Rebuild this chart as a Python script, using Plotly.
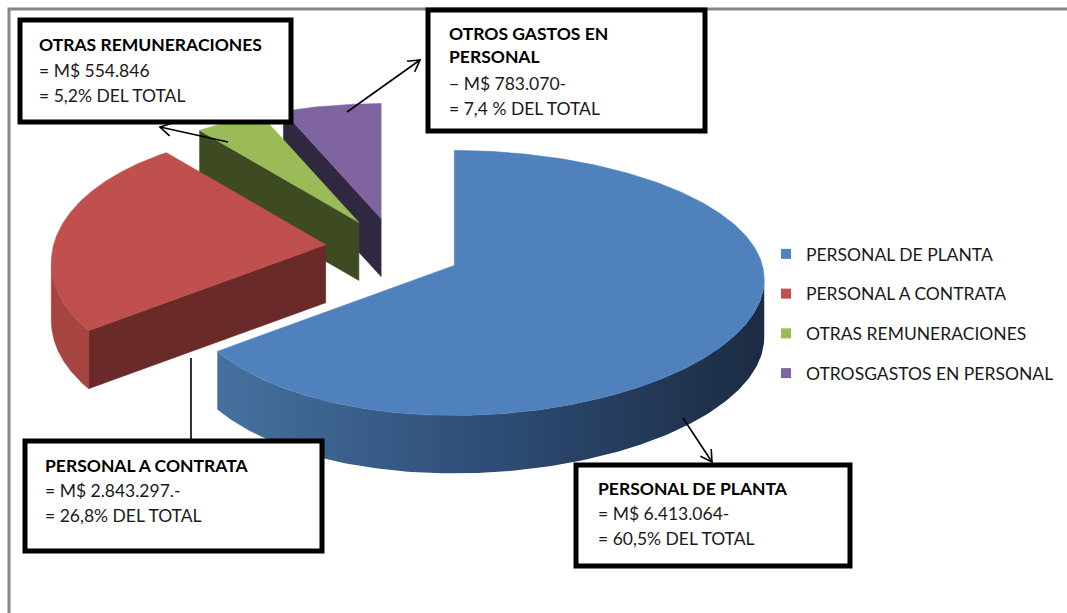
import numpy as np
import plotly.graph_objects as go

# ---------------- data ----------------
categories = ["PERSONAL DE PLANTA", "PERSONAL A CONTRATA",
              "OTRAS REMUNERACIONES", "OTROSGASTOS EN PERSONAL"]
values_mil = [6413064, 2843297, 554846, 783070]
top_colors = ["#4F81BD", "#C0504D", "#9BBB59", "#8064A2"]
cut_colors = ["#2C4668", "#6A2A29", "#3E4B22", "#302741"]
side_colors = ["#3A5F8C", "#A6443F", "#748C42", "#5F4A7A"]

box_titles = ["OTRAS REMUNERACIONES", "OTROS GASTOS EN<br>PERSONAL",
              "PERSONAL A CONTRATA", "PERSONAL DE PLANTA"]
box_lines = [["= M$ 554.846", "= 5,2% DEL TOTAL"],
             ["− M$ 783.070-", "= 7,4 % DEL TOTAL"],
             ["= M$ 2.843.297.-", "= 26,8% DEL TOTAL"],
             ["= M$ 6.413.064-", "= 60,5% DEL TOTAL"]]

# ---------------- geometry (pseudo-3D perspective pie) ----------------
W, H = 1067, 613
CX, CY = 395, 249
R0, R1, R2 = 290, 35, 18      # horizontal radius terms
Q0, Q1 = 132.5, 17.5          # vertical radius terms
WARP = np.radians(16)         # perspective angle warp
EXPLODE_X, EXPLODE_Y = 70, 31
DEPTH = 58
FONT = "Lato"
FS = 17.5


def warp(t):
    return t + WARP * np.sin(t / 2)


def off(p):
    rx = R0 - R1 * np.cos(p) + R2 * np.sin(p)
    ry = Q0 - Q1 * np.cos(p)
    return rx * np.sin(p), -ry * np.cos(p)


# silhouette angles of outer rim (screen-space extremes)
pp = np.linspace(0, 2 * np.pi, 7201)
xx, _ = off(pp)
p_right = pp[np.argmax(np.where(pp <= np.pi, xx, -1e9))]
p_left = pp[np.argmin(np.where(pp >= np.pi, xx, 1e9))]

fig = go.Figure()
total = float(sum(values_mil))
bounds = np.concatenate([[0.0], np.cumsum(values_mil)]) / total * 2 * np.pi

slices = []
for i in range(len(values_mil)):
    p0, p1 = warp(bounds[i]), warp(bounds[i + 1])
    pm = warp((bounds[i] + bounds[i + 1]) / 2)
    ax_ = CX + EXPLODE_X * np.sin(pm)
    ay_ = CY - EXPLODE_Y * np.cos(pm)
    slices.append((i, p0, p1, ax_, ay_))

order = sorted(range(len(slices)), key=lambda k: slices[k][4])


def poly(xs, ys, color=None, grad=None):
    kw = dict(x=list(xs) + [xs[0]], y=list(ys) + [ys[0]], mode="lines",
              fill="toself", showlegend=False, hoverinfo="skip")
    if grad is not None:
        kw["fillgradient"] = grad
        kw["line"] = dict(width=0)
    else:
        kw["fillcolor"] = color
        kw["line"] = dict(width=0.6, color=color)
    fig.add_trace(go.Scatter(**kw))


for k in order:
    i, p0, p1, ax_, ay_ = slices[k]
    # radial cut faces
    for a, n in ((p0, p0 - np.pi / 2), (p1, p1 + np.pi / 2)):
        if np.cos(n) < -0.05:
            ox, oy = off(a)
            poly([ax_, ax_ + ox, ax_ + ox, ax_],
                 [ay_, ay_ + oy, ay_ + oy + DEPTH, ay_ + DEPTH], cut_colors[i])
    # outer rim side
    lo, hi = max(p0, p_right), min(p1, p_left)
    if hi > lo:
        ts = np.linspace(lo, hi, 200)
        ox, oy = off(ts)
        xs = np.concatenate([ax_ + ox, (ax_ + ox)[::-1]])
        ys = np.concatenate([ay_ + oy, (ay_ + oy + DEPTH)[::-1]])
        if i == 0:
            poly(xs, ys, grad=dict(type="horizontal",
                                   colorscale=[[0, "#46719F"], [0.45, "#30507A"],
                                               [1, "#1B2B42"]]))
        else:
            poly(xs, ys, side_colors[i])
    # top face
    ts = np.linspace(p0, p1, 300)
    ox, oy = off(ts)
    poly([ax_] + list(ax_ + ox), [ay_] + list(ay_ + oy), top_colors[i])

# legend entries
for i, name in enumerate(categories):
    fig.add_trace(go.Scatter(x=[None], y=[None], mode="markers", name=name,
                             marker=dict(symbol="square", size=10, color=top_colors[i]),
                             legendgroup=f"g{i}", showlegend=True))

shapes = []
annotations = []

# outer chart border
shapes.append(dict(type="rect", xref="x", yref="y", x0=9, y0=9, x1=1090, y1=640,
                   line=dict(color="#868686", width=3), fillcolor="rgba(0,0,0,0)",
                   layer="above"))

# callout boxes (centre-line coordinates)
boxes = [(20, 20, 291, 122), (428, 10, 705, 131), (25, 441, 322, 551), (576, 465, 850, 566)]
text_x = [37, 447, 43, 596]
text_y = [[44, 70, 95], [45, 83, 108], [465, 490, 515], [488, 513, 538]]

for b, (x0, y0, x1, y1) in enumerate(boxes):
    shapes.append(dict(type="rect", xref="x", yref="y", x0=x0, y0=y0, x1=x1, y1=y1,
                       line=dict(color="#000000", width=5), fillcolor="#FFFFFF",
                       layer="above"))
    annotations.append(dict(x=text_x[b], y=text_y[b][0], xref="x", yref="y",
                            text=f"<b>{box_titles[b]}</b>", showarrow=False,
                            xanchor="left", yanchor="middle", align="left",
                            font=dict(family=FONT, size=FS, color="#000000")))
    for j, line in enumerate(box_lines[b]):
        annotations.append(dict(x=text_x[b], y=text_y[b][j + 1], xref="x", yref="y",
                                text=line, showarrow=False, xanchor="left",
                                yanchor="middle", align="left",
                                font=dict(family=FONT, size=FS, color="#1A1A1A")))


def connector(x0, y0, x1, y1, head=True):
    shapes.append(dict(type="line", xref="x", yref="y", x0=x0, y0=y0, x1=x1, y1=y1,
                       line=dict(color="#000000", width=1.6), layer="above"))
    if head:
        ang = np.arctan2(y1 - y0, x1 - x0)
        L, spread = 13, np.radians(30)
        p1 = (x1 - L * np.cos(ang - spread), y1 - L * np.sin(ang - spread))
        p2 = (x1 - L * np.cos(ang + spread), y1 - L * np.sin(ang + spread))
        shapes.append(dict(type="path", xref="x", yref="y",
                           path=f"M {p1[0]:.1f} {p1[1]:.1f} L {x1} {y1} L {p2[0]:.1f} {p2[1]:.1f}",
                           line=dict(color="#000000", width=1.6), layer="above"))


connector(228, 142, 160, 127)
connector(347, 112, 420, 60)
connector(191, 358, 191, 441, head=False)
connector(683, 418, 712, 462)

fig.update_layout(
    width=W, height=H,
    margin=dict(l=0, r=0, t=0, b=0),
    paper_bgcolor="#FFFFFF", plot_bgcolor="#FFFFFF",
    xaxis=dict(range=[0, W], visible=False, fixedrange=True),
    yaxis=dict(range=[H, 0], visible=False, fixedrange=True),
    shapes=shapes, annotations=annotations,
    showlegend=True,
    legend=dict(x=766 / W, y=1 - 236 / H, xanchor="left", yanchor="top",
                font=dict(family=FONT, size=FS, color="#1A1A1A"),
                tracegroupgap=14, bgcolor="rgba(0,0,0,0)", itemclick=False,
                itemdoubleclick=False),
    hovermode=False,
)

fig.write_html("out.html",
               config={"displayModeBar": False, "staticPlot": True},
               post_script="document.body.style.margin='0';document.body.style.overflow='hidden';")
